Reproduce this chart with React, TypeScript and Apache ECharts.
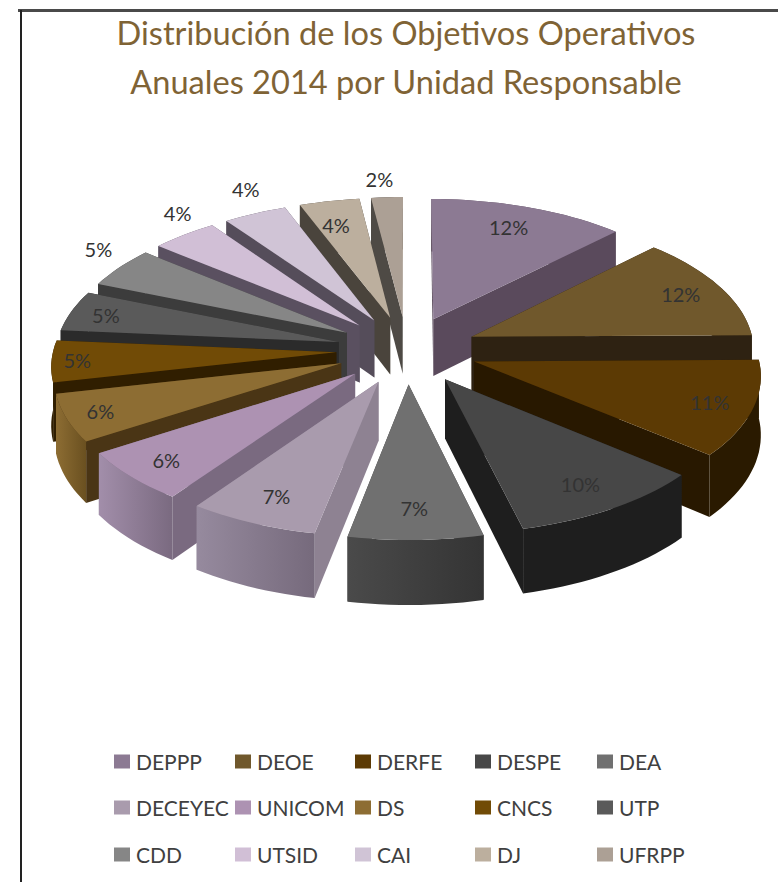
import React, { useEffect, useRef } from "react";
import * as echarts from "echarts";

const categories = ["DEPPP","DEOE","DERFE","DESPE","DEA","DECEYEC","UNICOM","DS","CNCS","UTP","CDD","UTSID","CAI","DJ","UFRPP"];
const values = [12.4,12.4,11.3,10.1,6.9,6.7,6.1,5.6,4.9,4.8,4.8,4.2,4,3.8,2];
const topColors = ["#8c7a93","#70582c","#5c3a04","#474747","#707070","#a99bad","#ad92b2","#8d6d33","#714b06","#5a5a5a","#868686","#d1bfd6","#d0c4d6","#bcaf9e","#aca095"];
const sideColors = ["#5a4a5c","#2e2212","#281800","#1e1e1e","#3a3a3a","#8e8292","#7a6a80","#4a3515","#301e00","#2b2b2b","#3c3c3c","#5a5060","#554d5a","#4a443c","#4e4a45"];
const rimLeft = ["#5a4a5c","#2e2212","#2a1a00","#1e1e1e","#4a4a4a","#968a9e","#a28eaa","#8d6d33","#301e00","#2b2b2b","#3c3c3c","#5a5060","#554d5a","#4a443c","#4e4a45"];
const rimRight = ["#5a4a5c","#2e2212","#2a1a00","#1e1e1e","#343434","#766a7c","#7a6a80","#6a5020","#301e00","#2b2b2b","#3c3c3c","#5a5060","#554d5a","#4a443c","#4e4a45"];
const labelRadii = [0.81,0.84,0.85,0.82,0.81,0.82,0.85,0.88,0.91,0.87,1.16,1.17,1.22,0.79,1.17];
const labelShifts = [-1,0,0,0,0,0,0,0,0,0,4,5,3,-1.5,-1];
const legendCols = [114,235,355,475,597];
const legendRows = [751,797,844];

const CX = 407, CY = 350, RX = 283, AY = 135.6, PERSP = 0.0863, EXPLODE = 0.25, DEPTH = 58;
const RAD = Math.PI / 180;
const total = values.reduce((a, b) => a + b, 0);
const starts: number[] = [];
values.reduce((acc, v, i) => { starts[i] = (acc / total) * 360; return acc + v; }, 0);

function project(wx: number, wy: number, h: number) {
  const k = 1 / (1 - PERSP * wy);
  return [CX + RX * wx * k, CY + AY * wy * k + h * k];
}
function slicePoint(mid: number, r: number, a: number, h: number) {
  const wx = EXPLODE * Math.sin(mid * RAD) + r * Math.sin(a * RAD);
  const wy = -(EXPLODE * Math.cos(mid * RAD) + r * Math.cos(a * RAD));
  return project(wx, wy, h);
}
const toPath = (pts: number[][]) =>
  "M" + pts.map((p) => p[0].toFixed(1) + " " + p[1].toFixed(1)).join("L") + "Z";

function renderSlice(i: number) {
  const a0 = starts[i];
  const a1 = a0 + (values[i] / total) * 360;
  const mid = (a0 + a1) / 2;
  const arc = (h: number) => {
    const pts: number[][] = [];
    const n = Math.max(2, Math.ceil((a1 - a0) / 2));
    for (let j = 0; j <= n; j++) pts.push(slicePoint(mid, 1, a0 + ((a1 - a0) * j) / n, h));
    return pts;
  };
  const topArc = arc(0);
  const botArc = arc(DEPTH);
  const tipT = slicePoint(mid, 0, 0, 0);
  const tipB = slicePoint(mid, 0, 0, DEPTH);
  const walls = [
    { pts: [tipT, topArc[0], botArc[0], tipB], fill: sideColors[i] as any },
    { pts: [tipT, topArc[topArc.length - 1], botArc[botArc.length - 1], tipB], fill: sideColors[i] as any },
    {
      pts: [...topArc, ...botArc.slice().reverse()],
      fill: new echarts.graphic.LinearGradient(0, 0, 1, 0, [
        { offset: 0, color: rimLeft[i] },
        { offset: 1, color: rimRight[i] },
      ]) as any,
    },
  ];
  const avgY = (pts: number[][]) => pts.reduce((s, p) => s + p[1], 0) / pts.length;
  walls.sort((a, b) => avgY(a.pts) - avgY(b.pts));
  const lp = slicePoint(mid, labelRadii[i], mid + labelShifts[i], 0);
  return {
    type: "group",
    children: [
      ...walls.map((w) => ({ type: "path", shape: { pathData: toPath(w.pts) }, style: { fill: w.fill } })),
      { type: "path", shape: { pathData: toPath([tipT, ...topArc]) }, style: { fill: topColors[i] } },
      {
        type: "text",
        style: {
          text: Math.round(values[i]) + "%", x: lp[0], y: lp[1], align: "center", verticalAlign: "middle",
          fill: "#333333", fontSize: 20, fontFamily: "Lato",
        },
      },
    ],
  };
}

export default function App() {
  const ref = useRef<HTMLDivElement>(null);
  useEffect(() => {
    const chart = echarts.init(ref.current!, undefined, { renderer: "svg" });
    const mids = values.map((v, i) => starts[i] + ((v / total) * 360) / 2);
    const order = categories.map((_, i) => i).sort((a, b) => -Math.cos(mids[a] * RAD) + Math.cos(mids[b] * RAD));
    chart.setOption({
      animation: false,
      backgroundColor: "#ffffff",
      title: {
        text: "Distribución de los Objetivos Operativos\nAnuales 2014 por Unidad Responsable",
        left: 401, top: 3, textAlign: "center",
        textStyle: { color: "#7f6335", fontSize: 32.6, fontWeight: "normal", fontFamily: "Lato", lineHeight: 49 },
      },
      legend: categories.map((name, i) => ({
        data: [{ name, icon: "rect", itemStyle: { color: topColors[i] } }],
        left: legendCols[i % 5],
        top: legendRows[Math.floor(i / 5)],
        itemWidth: 16, itemHeight: 14, itemGap: 0, padding: 0, selectedMode: false,
        textStyle: { color: "#404040", fontSize: 21, fontFamily: "Lato", padding: [0, 0, 0, 1] },
      })),
      graphic: [
        { type: "line", shape: { x1: 18, y1: 10.5, x2: 778, y2: 10.5 }, style: { stroke: "#4a4a4a", lineWidth: 3 }, silent: true },
        { type: "line", shape: { x1: 21, y1: 10, x2: 21, y2: 882 }, style: { stroke: "#222222", lineWidth: 2 }, silent: true },
      ],
      series: categories.map((name, i) => ({
        type: "custom",
        name,
        coordinateSystem: "none",
        silent: true,
        z: 2 + order.indexOf(i),
        itemStyle: { color: topColors[i] },
        data: [{ name, value: values[i] }],
        renderItem: () => renderSlice(i),
      })),
    });
    return () => chart.dispose();
  }, []);
  return <div ref={ref} style={{ position: "absolute", left: 0, top: 0, width: 778, height: 882 }} />;
}
